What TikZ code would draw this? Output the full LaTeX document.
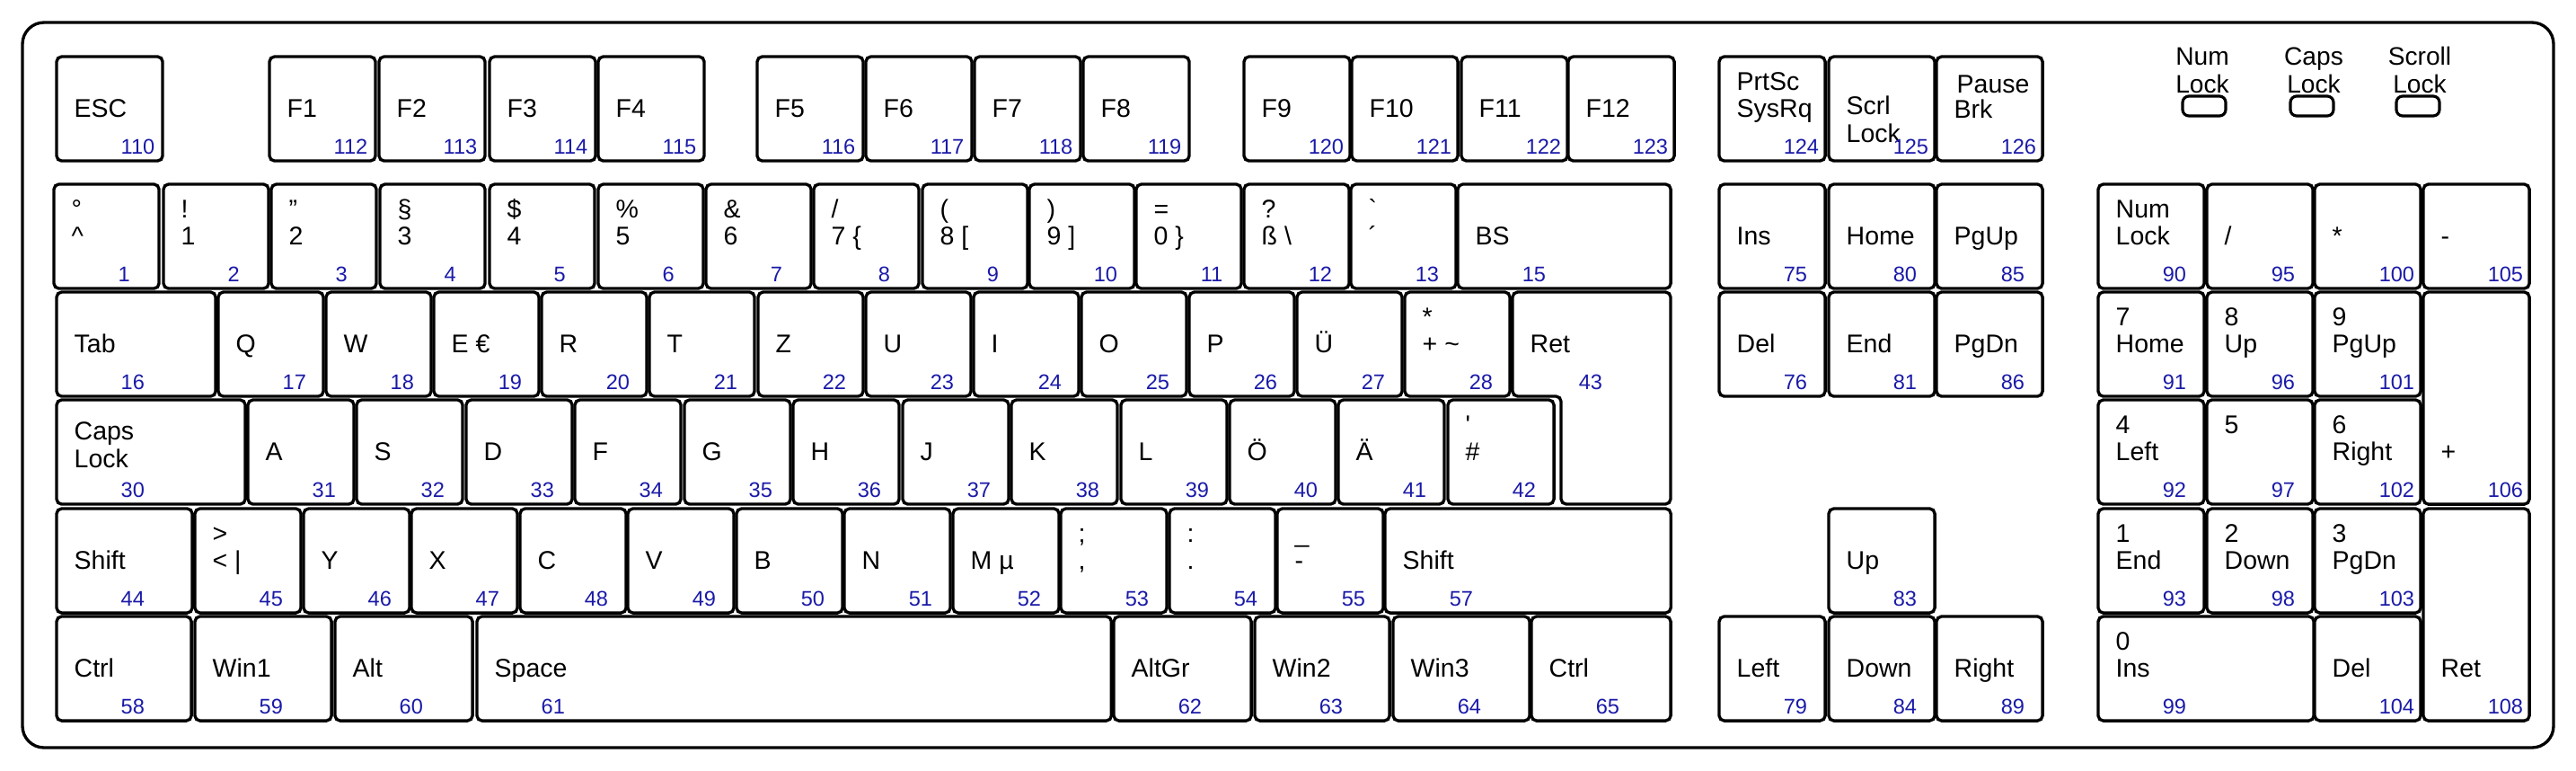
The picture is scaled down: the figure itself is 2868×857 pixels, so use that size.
\documentclass[tikz,border=0pt]{standalone}
\usepackage{fontspec}
\setmainfont{Liberation Sans}
\definecolor{numblue}{RGB}{26,26,168}

\begin{document}
\begin{tikzpicture}[x=0.01cm, y=-0.01cm]
    \tikzstyle{frame} = [draw, line width=0.95pt, rounded corners=0.24cm]
    \tikzstyle{key} = [draw, line width=0.95pt, rounded corners=1.6pt, anchor=north west, inner sep=0pt, outer sep=0pt, minimum width=1.18cm, minimum height=1.16cm]
    \tikzstyle{keyline} = [draw, line width=0.95pt, rounded corners=1.6pt]
    \tikzstyle{lbl} = [font=\fontsize{8.1}{9}\selectfont, anchor=base west, inner sep=0pt, xshift=0.19cm]
    \tikzstyle{num} = [font=\fontsize{6.7}{8}\selectfont, text=numblue, anchor=base west, inner sep=0pt, xshift=0.71cm, yshift=0.08cm]
    \tikzstyle{led} = [draw, line width=0.9pt, rounded corners=2pt, inner sep=0pt, minimum width=0.48cm, minimum height=0.22cm]
    \tikzstyle{ledtxt} = [font=\fontsize{8}{9}\selectfont, anchor=base, inner sep=0pt]
    \tikzset{
        txt/.style={label={[lbl, yshift=-0.67cm]north west:{#1}}},
        txtu/.style={label={[lbl, yshift=-0.37cm]north west:{#1}}},
        txtt/.style 2 args={label={[lbl, yshift=-0.37cm]north west:{#1}}, label={[lbl, yshift=-0.67cm]north west:{#2}}},
        nr/.style={label={[num]south west:{#1}}},
        wd/.style={minimum width=#1cm},
        ht/.style={minimum height=#1cm}
    }

    \useasboundingbox (0,0) rectangle (2868,857);
    \draw[frame] (25,25) rectangle (2843,832);

    % Status lights
    \node[led] (ledNum) at (2454,118) {};
    \node[led] (ledCaps) at (2574,118) {};
    \node[led] (ledScroll) at (2692,118) {};
    \node[ledtxt] (ledNumA) at (2452,72) {Num};
    \node[ledtxt] (ledNumB) at (2452,103) {Lock};
    \node[ledtxt] (ledCapsA) at (2576,72) {Caps};
    \node[ledtxt] (ledCapsB) at (2576,103) {Lock};
    \node[ledtxt] (ledScrollA) at (2694,72) {Scroll};
    \node[ledtxt] (ledScrollB) at (2694,103) {Lock};

    % Function row
    \node[key, txt=ESC, nr=110] (esc) at (63,63) {};
    \node[key, txt=F1, nr=112] (f1) at (300,63) {};
    \node[key, txt=F2, nr=113] (f2) at (422,63) {};
    \node[key, txt=F3, nr=114] (f3) at (545,63) {};
    \node[key, txt=F4, nr=115] (f4) at (666,63) {};
    \node[key, txt=F5, nr=116] (f5) at (843,63) {};
    \node[key, txt=F6, nr=117] (f6) at (964,63) {};
    \node[key, txt=F7, nr=118] (f7) at (1085,63) {};
    \node[key, txt=F8, nr=119] (f8) at (1206,63) {};
    \node[key, txt=F9, nr=120] (f9) at (1385,63) {};
    \node[key, txt=F10, nr=121] (f10) at (1505,63) {};
    \node[key, txt=F11, nr=122] (f11) at (1627,63) {};
    \node[key, txt=F12, nr=123] (f12) at (1746,63) {};
    \node[key, txtt={PrtSc}{SysRq}, nr=124] (prtsc) at (1914,63) {};
    \node[key, label={[lbl, yshift=-0.64cm]north west:Scrl}, label={[lbl, yshift=-0.95cm]north west:Lock}, nr=125] (scrl) at (2036,63) {};
    \node[key, label={[lbl, xshift=0.03cm, yshift=-0.40cm]north west:Pause}, label={[lbl, yshift=-0.68cm]north west:Brk}, nr=126] (pause) at (2156,63) {};

    % Number row
    \node[key, wd=1.17, txtt={°}{\textasciicircum}, nr=1] (k1) at (60,205) {};
    \node[key, wd=1.17, txtt={!}{1}, nr=2] (k2) at (182,205) {};
    \node[key, wd=1.17, txtt={"}{2}, nr=3] (k3) at (302,205) {};
    \node[key, wd=1.17, txtt={§}{3}, nr=4] (k4) at (423,205) {};
    \node[key, wd=1.17, txtt={\$}{4}, nr=5] (k5) at (545,205) {};
    \node[key, wd=1.17, txtt={\%}{5}, nr=6] (k6) at (666,205) {};
    \node[key, wd=1.17, txtt={\&}{6}, nr=7] (k7) at (786,205) {};
    \node[key, wd=1.17, txtt={/}{7 \{}, nr=8] (k8) at (906,205) {};
    \node[key, wd=1.17, txtt={(}{8 [}, nr=9] (k9) at (1027,205) {};
    \node[key, wd=1.17, txtt={)}{9 ]}, nr=10] (k10) at (1146,205) {};
    \node[key, wd=1.17, txtt={=}{0 \}}, nr=11] (k11) at (1265,205) {};
    \node[key, wd=1.17, txtt={?}{ß \textbackslash}, nr=12] (k12) at (1385,205) {};
    \node[key, wd=1.17, txtt={\textasciigrave}{´}, nr=13] (k13) at (1504,205) {};
    \node[key, wd=2.37, txt=BS, nr=15] (bs) at (1623,205) {};
    \node[key, txt=Ins, nr=75] (ins) at (1914,205) {};
    \node[key, txt=Home, nr=80] (home) at (2036,205) {};
    \node[key, txt=PgUp, nr=85] (pgup) at (2156,205) {};
    \node[key, txtt={Num}{Lock}, nr=90] (numlock) at (2336,205) {};
    \node[key, txt=/, nr=95] (kpdiv) at (2457,205) {};
    \node[key, txt=*, nr=100] (kpmul) at (2577,205) {};
    \node[key, txt=-, nr=105] (kpsub) at (2698,205) {};

    % Upper letter row
    \node[key, wd=1.77, txt=Tab, nr=16] (tab) at (63,325) {};
    \node[key, wd=1.17, txt=Q, nr=17] (q) at (243,325) {};
    \node[key, wd=1.17, txt=W, nr=18] (w) at (363,325) {};
    \node[key, wd=1.17, txt=E €, nr=19] (e) at (483,325) {};
    \node[key, wd=1.17, txt=R, nr=20] (r) at (603,325) {};
    \node[key, wd=1.17, txt=T, nr=21] (t) at (723,325) {};
    \node[key, wd=1.17, txt=Z, nr=22] (z) at (844,325) {};
    \node[key, wd=1.17, txt=U, nr=23] (u) at (964,325) {};
    \node[key, wd=1.17, txt=I, nr=24] (i) at (1084,325) {};
    \node[key, wd=1.17, txt=O, nr=25] (o) at (1204,325) {};
    \node[key, wd=1.17, txt=P, nr=26] (p) at (1324,325) {};
    \node[key, wd=1.17, txt=Ü, nr=27] (ue) at (1444,325) {};
    \node[key, wd=1.17, txtt={*}{+ \textasciitilde}, nr=28] (plus) at (1564,325) {};
    \draw[keyline] (1684,325) -- (1860,325) -- (1860,561) -- (1738,561) -- (1738,441) -- (1684,441) -- cycle;
    \node[lbl, yshift=-0.67cm] (retL) at (1684,325) {Ret};
    \node[num] (retN) at (1686,441) {43};
    \node[key, txt=Del, nr=76] (del) at (1914,325) {};
    \node[key, txt=End, nr=81] (end) at (2036,325) {};
    \node[key, txt=PgDn, nr=86] (pgdn) at (2156,325) {};
    \node[key, txtt={7}{Home}, nr=91] (kp7) at (2336,325) {};
    \node[key, txtt={8}{Up}, nr=96] (kp8) at (2457,325) {};
    \node[key, txtt={9}{PgUp}, nr=101] (kp9) at (2577,325) {};
    \node[key, ht=2.36, label={[lbl, yshift=-1.87cm]north west:+}, nr=106] (kpadd) at (2698,325) {};

    % Home row
    \node[key, wd=2.10, label={[lbl, yshift=-0.44cm]north west:Caps}, label={[lbl, yshift=-0.75cm]north west:Lock}, nr=30] (caps) at (63,445) {};
    \node[key, txt=A, nr=31] (a) at (276,445) {};
    \node[key, txt=S, nr=32] (s) at (397,445) {};
    \node[key, txt=D, nr=33] (d) at (519,445) {};
    \node[key, txt=F, nr=34] (f) at (640,445) {};
    \node[key, txt=G, nr=35] (g) at (762,445) {};
    \node[key, txt=H, nr=36] (h) at (883,445) {};
    \node[key, txt=J, nr=37] (j) at (1005,445) {};
    \node[key, txt=K, nr=38] (k) at (1126,445) {};
    \node[key, txt=L, nr=39] (l) at (1248,445) {};
    \node[key, txt=Ö, nr=40] (oe) at (1369,445) {};
    \node[key, txt=Ä, nr=41] (ae) at (1490,445) {};
    \node[key, txtt={\textquotesingle}{\#}, nr=42] (hash) at (1612,445) {};
    \node[key, txtt={4}{Left}, nr=92] (kp4) at (2336,445) {};
    \node[key, txtu=5, nr=97] (kp5) at (2457,445) {};
    \node[key, txtt={6}{Right}, nr=102] (kp6) at (2577,445) {};

    % Lower letter row
    \node[key, wd=1.51, txt=Shift, nr=44] (lshift) at (63,566) {};
    \node[key, txtt={>}{< \textbar}, nr=45] (less) at (217,566) {};
    \node[key, txt=Y, nr=46] (y) at (338,566) {};
    \node[key, txt=X, nr=47] (x) at (458,566) {};
    \node[key, txt=C, nr=48] (c) at (579,566) {};
    \node[key, txt=V, nr=49] (v) at (699,566) {};
    \node[key, txt=B, nr=50] (b) at (820,566) {};
    \node[key, txt=N, nr=51] (n) at (940,566) {};
    \node[key, txt=M µ, nr=52] (m) at (1061,566) {};
    \node[key, txtt={;}{,}, nr=53] (semi) at (1181,566) {};
    \node[key, txtt={:}{.}, nr=54] (colon) at (1302,566) {};
    \node[key, txtt={\_}{-}, nr=55] (dash) at (1422,566) {};
    \node[key, wd=3.18, txt=Shift, nr=57] (rshift) at (1542,566) {};
    \node[key, txt=Up, nr=83] (up) at (2036,566) {};
    \node[key, txtt={1}{End}, nr=93] (kp1) at (2336,566) {};
    \node[key, txtt={2}{Down}, nr=98] (kp2) at (2457,566) {};
    \node[key, txtt={3}{PgDn}, nr=103] (kp3) at (2577,566) {};
    \node[key, ht=2.36, label={[lbl, yshift=-1.87cm]north west:Ret}, nr=108] (kpret) at (2698,566) {};

    % Bottom row
    \node[key, wd=1.50, txt=Ctrl, nr=58] (lctrl) at (63,686) {};
    \node[key, wd=1.52, txt=Win1, nr=59] (win1) at (217,686) {};
    \node[key, wd=1.53, txt=Alt, nr=60] (alt) at (373,686) {};
    \node[key, wd=7.06, txt=Space, nr=61] (space) at (531,686) {};
    \node[key, wd=1.53, txt=AltGr, nr=62] (altgr) at (1240,686) {};
    \node[key, wd=1.50, txt=Win2, nr=63] (win2) at (1397,686) {};
    \node[key, wd=1.52, txt=Win3, nr=64] (win3) at (1551,686) {};
    \node[key, wd=1.55, txt=Ctrl, nr=65] (rctrl) at (1705,686) {};
    \node[key, txt=Left, nr=79] (left) at (1914,686) {};
    \node[key, txt=Down, nr=84] (down) at (2036,686) {};
    \node[key, txt=Right, nr=89] (right) at (2156,686) {};
    \node[key, wd=2.40, txtt={0}{Ins}, nr=99] (kp0) at (2336,686) {};
    \node[key, txt=Del, nr=104] (kpdel) at (2577,686) {};
\end{tikzpicture}
\end{document}
